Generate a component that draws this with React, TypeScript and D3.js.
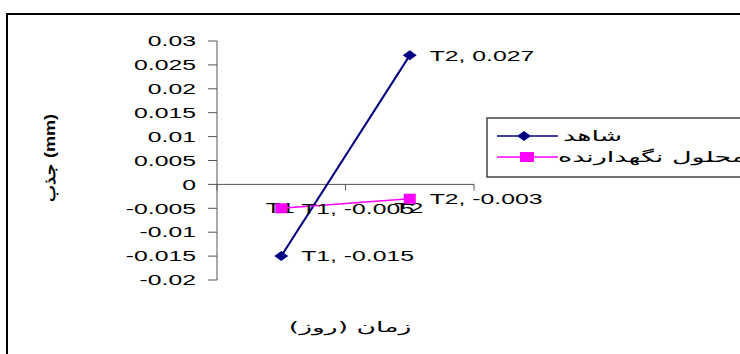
import React from 'react';
import * as d3 from 'd3';

// categories and series
const categories = ['T1', 'T2'];
const seriesNames = ['شاهد', 'محلول نگهدارنده'];
const controlValues = [-0.015, 0.027];
const preservValues = [-0.005, -0.003];
const yTicks = [0.03, 0.025, 0.02, 0.015, 0.01, 0.005, 0, -0.005, -0.01, -0.015, -0.02];

const xTitle = 'زمان (روز)';
const yTitle = 'جذب (mm)';

const width = 740;
const height = 354;
const plot = { left: 217, right: 474, top: 41, bottom: 280 };

// the picture's text is stretched sideways
const stretch = 1.65;
const faStretch = 1.8;

const App = () => {
  const x = d3.scaleBand()
    .domain(categories)
    .range([plot.left, plot.right]);

  const y = d3.scaleLinear()
    .domain([-0.02, 0.03])
    .range([plot.bottom, plot.top]);

  const cx = (c: string) => (x(c) as number) + x.bandwidth() / 2;
  const y0 = y(0);

  const line = d3.line<number>()
    .x((d, i) => cx(categories[i]))
    .y(d => y(d));

  const diamond = 'M-7,0L0,-5L7,0L0,5Z';
  const fmt = (v: number) => String(v);

  const font = '"Liberation Sans", Arial, sans-serif';
  const faFont = '"DejaVu Sans", sans-serif';

  const series = [
    { name: seriesNames[0], values: controlValues, color: '#000080', shape: 'diamond' },
    { name: seriesNames[1], values: preservValues, color: '#FF00FF', shape: 'square' },
  ];

  const T = (px: number, py: number, s = stretch) => `translate(${px},${py}) scale(${s},1)`;

  return (
    <svg width={width} height={height} style={{ position: 'absolute', left: 0, top: 0, background: '#fff' }}>
      {/* chart area border, clipped by the picture on the right and bottom */}
      <rect x={7} y={14} width={800} height={400} fill="#fff" stroke="#000" strokeWidth={2} />

      {/* y axis */}
      <line x1={plot.left} x2={plot.left} y1={y(0.03)} y2={y(-0.02)} stroke="#555" strokeWidth={1} />
      {yTicks.map(t => (
        <g key={t}>
          <line x1={plot.left - 9} x2={plot.left} y1={y(t)} y2={y(t)} stroke="#555" />
          <text transform={T(196, y(t))} dy="0.35em" textAnchor="end" fontFamily={font} fontSize={15} fill="#000">
            {fmt(t)}
          </text>
        </g>
      ))}

      {/* x axis at zero */}
      <line x1={plot.left} x2={plot.right} y1={y0} y2={y0} stroke="#555" />
      {[plot.left, ...categories.map(c => (x(c) as number) + x.bandwidth())].map((t, i) => (
        <line key={i} x1={t} x2={t} y1={y0} y2={y0 + 6} stroke="#555" />
      ))}
      {categories.map(c => (
        <text key={c} transform={T(cx(c) - 1, 208)} dy="0.35em" textAnchor="middle" fontFamily={font} fontSize={15} fill="#000">
          {c}
        </text>
      ))}

      {/* series */}
      {series.map(s => (
        <g key={s.name}>
          <path d={line(s.values) as string} fill="none" stroke={s.color} strokeWidth={s.shape === 'diamond' ? 2 : 1.5} />
          {s.values.map((v, i) => (
            s.shape === 'diamond'
              ? <path key={i} d={diamond} transform={`translate(${cx(categories[i])},${y(v)})`} fill={s.color} />
              : <rect key={i} x={cx(categories[i]) - 6} y={y(v) - 5} width={12} height={10} fill={s.color} />
          ))}
          {s.values.map((v, i) => (
            <text key={'l' + i} transform={T(cx(categories[i]) + 20, y(v))} dy="0.35em" fontFamily={font} fontSize={15} fill="#000">
              {`${categories[i]}, ${fmt(v)}`}
            </text>
          ))}
        </g>
      ))}

      {/* legend */}
      <rect x={487} y={118} width={300} height={59} fill="#fff" stroke="#444" strokeWidth={1.5} />
      {series.map((s, i) => {
        const ly = 136 + i * 21;
        return (
          <g key={s.name}>
            <line x1={497} x2={558} y1={ly} y2={ly} stroke={s.color} strokeWidth={1.5} />
            {s.shape === 'diamond'
              ? <path d={diamond} transform={`translate(524,${ly})`} fill={s.color} />
              : <rect x={520} y={ly - 5} width={14} height={10} fill={s.color} />}
            <text transform={T(i === 0 ? 563 : 558, ly, faStretch)} dy="0.35em" fontFamily={faFont} fontSize={15} fill="#000">
              {s.name}
            </text>
          </g>
        );
      })}

      {/* axis titles */}
      <text transform={T(350, 327, 1.9)} dy="0.35em" textAnchor="middle" fontFamily={faFont} fontSize={14} fill="#000">
        {xTitle}
      </text>
      <text transform="translate(50,158) rotate(-90) scale(1.2,1)" textAnchor="middle" dy="0.35em" fontFamily={font} fontSize={15} fontWeight="bold" fill="#000">
        {yTitle}
      </text>
    </svg>
  );
};

export default App;
